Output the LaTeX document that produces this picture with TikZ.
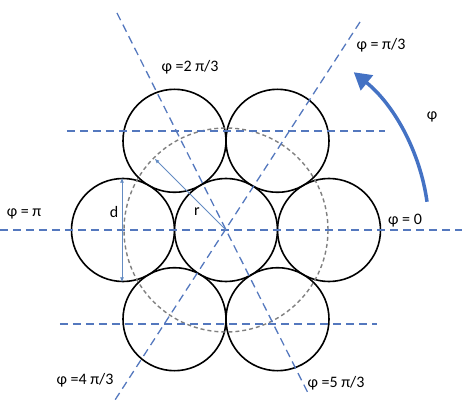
\documentclass[tikz,border=0pt]{standalone}
\usepackage{fontspec}
\setmainfont{Carlito}
\usetikzlibrary{arrows.meta}

\definecolor{axisblue}{RGB}{84,120,190}
\definecolor{arcblue}{RGB}{68,114,196}
\definecolor{dimblue}{RGB}{100,140,195}

\begin{document}
\begin{tikzpicture}[
  x=1pt, y=1pt,
  font=\fontsize{16}{19}\selectfont,
  ring/.style={draw, circle, line width=1.6pt, minimum size=103pt, inner sep=0pt},
  axis/.style={axisblue, line width=1.3pt, dash pattern=on 8pt off 5pt},
  hull/.style={gray, line width=1.4pt, dash pattern=on 4pt off 3pt},
  dim/.style={dimblue, line width=0.8pt},
  turn/.style={arcblue, line width=3.5pt, -{Triangle[length=17pt,width=19pt]}},
]
  \useasboundingbox (-226,-171) rectangle (236,230);
  \coordinate (o) at (0,0);

  % packed wires
  \node[ring] (c0) at (o) {};
  \foreach \a [count=\i] in {0,60,...,300}
    \node[ring] (c\i) at (\a:103) {};
  \draw[hull] (o) circle (102);

  % angle lines
  \draw[axis] (-226,0) -- (236,0);
  \draw[axis] (-159,99) -- (159,99);
  \draw[axis] (-166,-94) -- (151,-94);
  \draw[axis] (134,208) -- (-111,-170);
  \draw[axis] (-109,217) -- (82,-163);

  % d and r
  \coordinate (rtip) at (135:101);
  \draw[dim, {Latex[length=5pt,width=4pt]}-{Latex[length=5pt,width=4pt]}]
    ([xshift=-1pt]c4.north) -- ([xshift=-1pt]c4.south);
  \draw[dim, -{Latex[length=5pt,width=4pt]}] (o) -- (rtip);
  \node (dlab) at (-112,18) {d};
  \node (rlab) at (-29,18) {r};

  % labels
  \node (p0) at (179,9) {φ = 0};
  \node (p1) at (155,185) {φ = π/3};
  \node (p2) at (-36,163) {φ =2 π/3};
  \node (p3) at (-202,16) {φ = π};
  \node (p4) at (-141,-150) {φ =4 π/3};
  \node (p5) at (110,-153) {φ =5 π/3};

  % direction of phi
  \draw[turn] (8:203) arc[start angle=8, end angle=51, radius=203];
  \node (phi) at (206,113) {φ};
\end{tikzpicture}
\end{document}
